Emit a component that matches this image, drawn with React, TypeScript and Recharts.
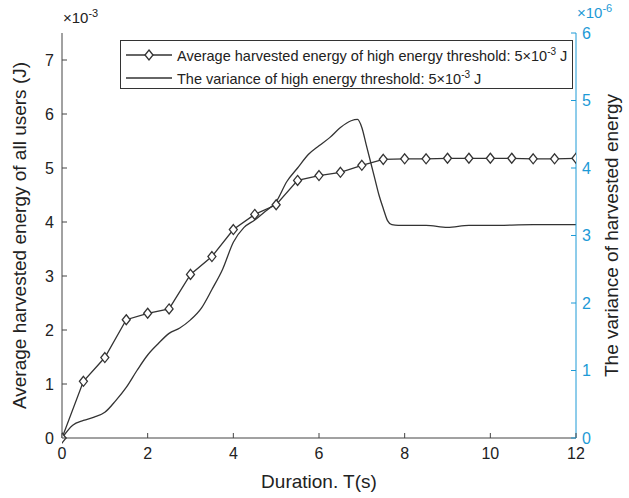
import React from 'react';
import {
  ComposedChart,
  Line,
  XAxis,
  YAxis,
  Label,
} from 'recharts';

const durations = [0, 0.5, 1, 1.5, 2, 2.5, 3, 3.5, 4, 4.5, 5, 5.5, 6, 6.5, 7, 7.5, 8, 8.5, 9, 9.5, 10, 10.5, 11, 11.5, 12];
const avgEnergy = [0, 1.05, 1.49, 2.19, 2.31, 2.39, 3.03, 3.36, 3.86, 4.14, 4.32, 4.77, 4.86, 4.92, 5.05, 5.16, 5.17, 5.17, 5.18, 5.18, 5.18, 5.18, 5.17, 5.17, 5.18];

const varDurations = [0, 0.25, 0.5, 0.75, 1, 1.25, 1.5, 1.75, 2, 2.25, 2.5, 2.75, 3, 3.25, 3.5, 3.75, 4, 4.25, 4.5, 4.75, 5, 5.25, 5.5, 5.75, 6, 6.25, 6.5, 6.75, 6.9, 7, 7.1, 7.2, 7.3, 7.4, 7.5, 7.6, 7.7, 7.85, 8, 8.5, 9, 9.5, 10, 11, 12];
const variance = [0, 0.19, 0.26, 0.31, 0.38, 0.55, 0.75, 1.0, 1.23, 1.4, 1.55, 1.63, 1.75, 1.92, 2.2, 2.5, 2.9, 3.12, 3.23, 3.36, 3.5, 3.8, 4.0, 4.2, 4.33, 4.45, 4.6, 4.7, 4.72, 4.6, 4.35, 4.1, 3.85, 3.6, 3.4, 3.22, 3.16, 3.15, 3.15, 3.15, 3.12, 3.15, 3.15, 3.16, 3.16];

const xTicks = [0, 2, 4, 6, 8, 10, 12];
const leftTicks = [0, 1, 2, 3, 4, 5, 6, 7];
const rightTicks = [0, 1, 2, 3, 4, 5, 6];

const legendLabels = [
  'Average harvested energy of high energy threshold: 5\u00d710',
  'The variance of high energy threshold: 5\u00d710',
];

const avgData = durations.map((t, i) => ({ t, avg: avgEnergy[i] }));
const varData = varDurations.map((t, i) => ({ t, v: variance[i] }));

const FONT = '"Liberation Sans", Arial, Helvetica, sans-serif';
const AXIS = '#444';
const BLUE = '#1d9ad6';
const LINE = '#333';
const M = 6;

const LeftTick = (props: any) => {
  const { x, y, payload } = props;
  const ax = x + M;
  return (
    <g>
      <line x1={ax} x2={ax + 5} y1={y} y2={y} stroke={AXIS} />
      <text x={x - 2} y={y} dy="0.35em" textAnchor="end" fontSize={16} fill="#222" fontFamily={FONT}>
        {payload.value}
      </text>
    </g>
  );
};

const RightTick = (props: any) => {
  const { x, y, payload } = props;
  const ax = x - M;
  return (
    <g>
      <line x1={ax} x2={ax - 5} y1={y} y2={y} stroke={BLUE} />
      <text x={x} y={y} dy="0.35em" textAnchor="start" fontSize={16} fill={BLUE} fontFamily={FONT}>
        {payload.value}
      </text>
    </g>
  );
};

const BottomTick = (props: any) => {
  const { x, y, payload } = props;
  const ay = y - M;
  return (
    <g>
      <line x1={x} x2={x} y1={ay} y2={ay - 5} stroke={AXIS} />
      <text x={x} y={y} dy="0.95em" textAnchor="middle" fontSize={16} fill="#222" fontFamily={FONT}>
        {payload.value}
      </text>
    </g>
  );
};

const TopTick = (props: any) => {
  const { x, y } = props;
  const ay = y + M;
  return <line x1={x} x2={x} y1={ay} y2={ay + 5} stroke={AXIS} />;
};

const Diamond = (props: any) => {
  const { cx, cy } = props;
  if (cx == null || cy == null) return null;
  const r = 5;
  return (
    <path
      d={`M${cx},${cy - r} L${cx + r * 0.8},${cy} L${cx},${cy + r} L${cx - r * 0.8},${cy} Z`}
      fill="#fff"
      stroke={LINE}
      strokeWidth={1.3}
    />
  );
};

const vLabel = (text: string, cx: number) => (props: any) => {
  const vb = props.viewBox || {};
  const cy = (vb.y ?? 0) + (vb.height ?? 0) / 2;
  return (
    <text
      x={cx}
      y={cy}
      transform={`rotate(-90, ${cx}, ${cy})`}
      textAnchor="middle"
      dominantBaseline="central"
      fontSize={19}
      fill="#222"
      fontFamily={FONT}
    >
      {text}
    </text>
  );
};

export default function App() {
  return (
    <div style={{ position: 'absolute', left: 0, top: 0, width: 629, height: 498, background: '#fff' }}>
      <ComposedChart width={629} height={498} margin={{ top: 33, right: 0, left: 0, bottom: 0 }}>
        <XAxis
          xAxisId="b"
          type="number"
          dataKey="t"
          domain={[0, 12]}
          ticks={xTicks}
          allowDataOverflow
          height={60}
          stroke={AXIS}
          tickSize={0}
          tickMargin={M}
          tick={<BottomTick />}
        >
          <Label value="Duration. T(s)" position="insideBottom" offset={10} fontSize={19} fill="#222" fontFamily={FONT} />
        </XAxis>
        <XAxis
          xAxisId="top"
          orientation="top"
          type="number"
          dataKey="t"
          domain={[0, 12]}
          ticks={xTicks}
          height={0}
          stroke={AXIS}
          tickSize={0}
          tickMargin={M}
          tick={<TopTick />}
        />
        <YAxis
          yAxisId="l"
          domain={[0, 7.5]}
          ticks={leftTicks}
          width={62}
          stroke={AXIS}
          tickSize={0}
          tickMargin={M}
          tick={<LeftTick />}
        >
          <Label content={vLabel('Average harvested energy of all users (J)', 19)} />
        </YAxis>
        <YAxis
          yAxisId="r"
          orientation="right"
          domain={[0, 6]}
          ticks={rightTicks}
          width={53}
          stroke={BLUE}
          tickSize={0}
          tickMargin={M}
          tick={<RightTick />}
        >
          <Label content={vLabel('The variance of harvested energy', 611)} />
        </YAxis>
        <Line
          xAxisId="b"
          yAxisId="r"
          data={varData}
          dataKey="v"
          type="monotone"
          stroke={LINE}
          strokeWidth={1.3}
          dot={false}
          isAnimationActive={false}
        />
        <Line
          xAxisId="b"
          yAxisId="l"
          data={avgData}
          dataKey="avg"
          type="linear"
          stroke={LINE}
          strokeWidth={1.3}
          dot={<Diamond />}
          isAnimationActive={false}
        />
      </ComposedChart>
      <div style={{ position: 'absolute', left: 63, top: 7, fontFamily: FONT, fontSize: 15, color: '#222' }}>
        {'\u00d710'}<sup style={{ fontSize: 11 }}>-3</sup>
      </div>
      <div style={{ position: 'absolute', left: 577, top: 2, fontFamily: FONT, fontSize: 15, color: BLUE }}>
        {'\u00d710'}<sup style={{ fontSize: 11 }}>-6</sup>
      </div>
      <div
        style={{
          position: 'absolute',
          left: 120,
          top: 40,
          width: 451,
          height: 47,
          border: '1px solid #333',
          background: '#fff',
          fontFamily: FONT,
          fontSize: 14.5,
          color: '#222',
        }}
      >
        {legendLabels.map((lbl, i) => (
          <div key={i} style={{ position: 'absolute', left: 4, top: i === 0 ? 6 : 29, height: 16, display: 'flex', alignItems: 'center', whiteSpace: 'nowrap' }}>
            <svg width={48} height={14} style={{ marginRight: 4 }}>
              <line x1={1} x2={47} y1={7} y2={7} stroke={LINE} strokeWidth={1.3} />
              {i === 0 && <path d="M24,2 L28,7 L24,12 L20,7 Z" fill="#fff" stroke={LINE} strokeWidth={1.3} />}
            </svg>
            <span>
              {lbl}
              <sup style={{ fontSize: 10 }}>-3</sup> J
            </span>
          </div>
        ))}
      </div>
    </div>
  );
}
